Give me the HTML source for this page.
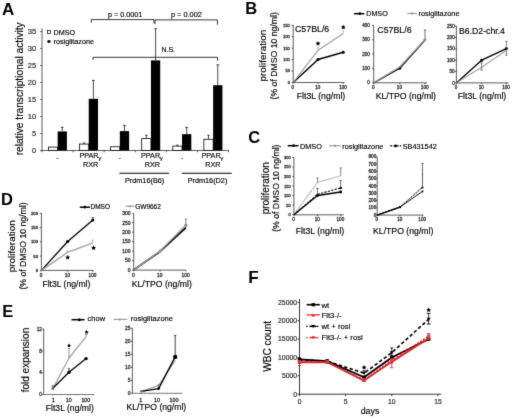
<!DOCTYPE html>
<html><head><meta charset="utf-8"><style>
html,body{margin:0;padding:0;background:#fff;overflow:hidden;}
svg{display:block;font-family:"Liberation Sans", sans-serif;}
</style></head><body>
<svg width="520" height="420" viewBox="0 0 520 420">
<defs><filter id="bl" x="0" y="0" width="520" height="420" filterUnits="userSpaceOnUse" color-interpolation-filters="sRGB"><feConvolveMatrix order="3" kernelMatrix="0.01134 0.08382 0.01134 0.08382 0.61935 0.08382 0.01134 0.08382 0.01134" edgeMode="duplicate" preserveAlpha="true"/></filter></defs>
<g filter="url(#bl)">
<rect width="520" height="420" fill="#fff"/>
<text x="2" y="14.9" font-size="17" text-anchor="start" fill="#000" font-weight="bold" >A</text>
<line x1="42" y1="28.5" x2="42" y2="150.5" stroke="#333" stroke-width="0.8" />
<line x1="40.2" y1="150.5" x2="42" y2="150.5" stroke="#333" stroke-width="0.8" />
<text x="36.2" y="153.1" font-size="7.5" text-anchor="end" fill="#222" font-weight="normal"  stroke="#222" stroke-width="0.15">0</text>
<line x1="40.2" y1="133.5" x2="42" y2="133.5" stroke="#333" stroke-width="0.8" />
<text x="36.2" y="136.1" font-size="7.5" text-anchor="end" fill="#222" font-weight="normal"  stroke="#222" stroke-width="0.15">5</text>
<line x1="40.2" y1="116.5" x2="42" y2="116.5" stroke="#333" stroke-width="0.8" />
<text x="36.2" y="119.1" font-size="7.5" text-anchor="end" fill="#222" font-weight="normal"  stroke="#222" stroke-width="0.15">10</text>
<line x1="40.2" y1="99.5" x2="42" y2="99.5" stroke="#333" stroke-width="0.8" />
<text x="36.2" y="102.1" font-size="7.5" text-anchor="end" fill="#222" font-weight="normal"  stroke="#222" stroke-width="0.15">15</text>
<line x1="40.2" y1="82.5" x2="42" y2="82.5" stroke="#333" stroke-width="0.8" />
<text x="36.2" y="85.1" font-size="7.5" text-anchor="end" fill="#222" font-weight="normal"  stroke="#222" stroke-width="0.15">20</text>
<line x1="40.2" y1="65.5" x2="42" y2="65.5" stroke="#333" stroke-width="0.8" />
<text x="36.2" y="68.1" font-size="7.5" text-anchor="end" fill="#222" font-weight="normal"  stroke="#222" stroke-width="0.15">25</text>
<line x1="40.2" y1="48.5" x2="42" y2="48.5" stroke="#333" stroke-width="0.8" />
<text x="36.2" y="51.1" font-size="7.5" text-anchor="end" fill="#222" font-weight="normal"  stroke="#222" stroke-width="0.15">30</text>
<line x1="40.2" y1="31.5" x2="42" y2="31.5" stroke="#333" stroke-width="0.8" />
<text x="36.2" y="34.1" font-size="7.5" text-anchor="end" fill="#222" font-weight="normal"  stroke="#222" stroke-width="0.15">35</text>
<line x1="42" y1="150.5" x2="229" y2="150.5" stroke="#333" stroke-width="0.8" />
<line x1="42" y1="150.5" x2="42" y2="152.3" stroke="#333" stroke-width="0.8" />
<line x1="73.1" y1="150.5" x2="73.1" y2="152.3" stroke="#333" stroke-width="0.8" />
<line x1="104.2" y1="150.5" x2="104.2" y2="152.3" stroke="#333" stroke-width="0.8" />
<line x1="135.3" y1="150.5" x2="135.3" y2="152.3" stroke="#333" stroke-width="0.8" />
<line x1="166.4" y1="150.5" x2="166.4" y2="152.3" stroke="#333" stroke-width="0.8" />
<line x1="197.5" y1="150.5" x2="197.5" y2="152.3" stroke="#333" stroke-width="0.8" />
<line x1="228.6" y1="150.5" x2="228.6" y2="152.3" stroke="#333" stroke-width="0.8" />
<rect x="48.4" y="147.1" width="9.25" height="3.4" fill="#fff" stroke="#000" stroke-width="0.8"/>
<line x1="62.27" y1="131.46" x2="62.27" y2="127.38" stroke="#000" stroke-width="0.7" />
<line x1="60.88" y1="127.38" x2="63.67" y2="127.38" stroke="#000" stroke-width="0.7" />
<rect x="57.65" y="131.46" width="9.25" height="19.04" fill="#000" stroke="none" stroke-width="0"/>
<line x1="84.12" y1="144.04" x2="84.12" y2="143.02" stroke="#000" stroke-width="0.7" />
<line x1="82.92" y1="143.02" x2="85.33" y2="143.02" stroke="#000" stroke-width="0.7" />
<rect x="79.5" y="144.04" width="9.25" height="6.46" fill="#fff" stroke="#000" stroke-width="0.8"/>
<line x1="93.38" y1="98.82" x2="93.38" y2="80.46" stroke="#000" stroke-width="0.7" />
<line x1="91.97" y1="80.46" x2="94.78" y2="80.46" stroke="#000" stroke-width="0.7" />
<rect x="88.75" y="98.82" width="9.25" height="51.68" fill="#000" stroke="none" stroke-width="0"/>
<rect x="110.6" y="146.76" width="9.25" height="3.74" fill="#fff" stroke="#000" stroke-width="0.8"/>
<line x1="124.47" y1="131.12" x2="124.47" y2="125.34" stroke="#000" stroke-width="0.7" />
<line x1="123.07" y1="125.34" x2="125.88" y2="125.34" stroke="#000" stroke-width="0.7" />
<rect x="119.85" y="131.12" width="9.25" height="19.38" fill="#000" stroke="none" stroke-width="0"/>
<line x1="146.33" y1="138.6" x2="146.33" y2="135.2" stroke="#000" stroke-width="0.7" />
<line x1="145.13" y1="135.2" x2="147.53" y2="135.2" stroke="#000" stroke-width="0.7" />
<rect x="141.7" y="138.6" width="9.25" height="11.9" fill="#fff" stroke="#000" stroke-width="0.8"/>
<line x1="155.58" y1="60.4" x2="155.58" y2="28.78" stroke="#000" stroke-width="0.7" />
<line x1="154.18" y1="28.78" x2="156.98" y2="28.78" stroke="#000" stroke-width="0.7" />
<rect x="150.95" y="60.4" width="9.25" height="90.1" fill="#000" stroke="none" stroke-width="0"/>
<line x1="177.43" y1="146.08" x2="177.43" y2="145.06" stroke="#000" stroke-width="0.7" />
<line x1="176.23" y1="145.06" x2="178.62" y2="145.06" stroke="#000" stroke-width="0.7" />
<rect x="172.8" y="146.08" width="9.25" height="4.42" fill="#fff" stroke="#000" stroke-width="0.8"/>
<line x1="186.68" y1="134.18" x2="186.68" y2="127.38" stroke="#000" stroke-width="0.7" />
<line x1="185.28" y1="127.38" x2="188.08" y2="127.38" stroke="#000" stroke-width="0.7" />
<rect x="182.05" y="134.18" width="9.25" height="16.32" fill="#000" stroke="none" stroke-width="0"/>
<line x1="208.53" y1="139.28" x2="208.53" y2="135.2" stroke="#000" stroke-width="0.7" />
<line x1="207.33" y1="135.2" x2="209.72" y2="135.2" stroke="#000" stroke-width="0.7" />
<rect x="203.9" y="139.28" width="9.25" height="11.22" fill="#fff" stroke="#000" stroke-width="0.8"/>
<line x1="217.78" y1="85.22" x2="217.78" y2="64.82" stroke="#000" stroke-width="0.7" />
<line x1="216.38" y1="64.82" x2="219.18" y2="64.82" stroke="#000" stroke-width="0.7" />
<rect x="213.15" y="85.22" width="9.25" height="65.28" fill="#000" stroke="none" stroke-width="0"/>
<rect x="47.4" y="30.6" width="3" height="3" fill="#fff" stroke="#000" stroke-width="0.7"/>
<text x="53.6" y="34.5" font-size="7.2" text-anchor="start" fill="#000" font-weight="normal"  stroke="#000" stroke-width="0.15">DMSO</text>
<rect x="47.5" y="40.2" width="2.9" height="2.6" fill="#000" stroke="none" stroke-width="0"/>
<text x="53.6" y="43.8" font-size="7.2" text-anchor="start" fill="#000" font-weight="normal"  stroke="#000" stroke-width="0.15">rosiglitazone</text>
<polyline points="91.2,22.8 91.2,19.6 154,19.6 154,23.5" fill="none" stroke="#222" stroke-width="0.9" stroke-linejoin="round" />
<polyline points="155,24.2 155,19.9 217.4,19.9 217.4,24.7" fill="none" stroke="#222" stroke-width="0.9" stroke-linejoin="round" />
<polyline points="93,60 93,57.3 217.6,57.3 217.6,60.6" fill="none" stroke="#222" stroke-width="0.9" stroke-linejoin="round" />
<text x="125.2" y="16.7" font-size="7.2" text-anchor="middle" fill="#000" font-weight="normal"  stroke="#000" stroke-width="0.15">p = 0.0001</text>
<text x="186.4" y="16.9" font-size="7.4" text-anchor="middle" fill="#000" font-weight="normal"  stroke="#000" stroke-width="0.15">p = 0.002</text>
<text x="161.4" y="51.9" font-size="7" text-anchor="start" fill="#000" font-weight="normal"  stroke="#000" stroke-width="0.15">N.S.</text>
<text x="57.5" y="160.3" font-size="7.2" text-anchor="middle" fill="#000" font-weight="normal"  stroke="#000" stroke-width="0.15">-</text>
<text x="119.7" y="160.3" font-size="7.2" text-anchor="middle" fill="#000" font-weight="normal"  stroke="#000" stroke-width="0.15">-</text>
<text x="181.9" y="160.3" font-size="7.2" text-anchor="middle" fill="#000" font-weight="normal"  stroke="#000" stroke-width="0.15">-</text>
<text x="88.9" y="158.3" font-size="7.2" text-anchor="middle" fill="#000" font-weight="normal"  stroke="#000" stroke-width="0.15">PPAR</text>
<text x="99.7" y="160" font-size="6.2" text-anchor="middle" fill="#000" font-weight="normal"  stroke="#000" stroke-width="0.15">&#947;</text>
<text x="90.7" y="166.8" font-size="7.2" text-anchor="middle" fill="#000" font-weight="normal"  stroke="#000" stroke-width="0.15">RXR</text>
<text x="150.6" y="158.3" font-size="7.2" text-anchor="middle" fill="#000" font-weight="normal"  stroke="#000" stroke-width="0.15">PPAR</text>
<text x="161.4" y="160" font-size="6.2" text-anchor="middle" fill="#000" font-weight="normal"  stroke="#000" stroke-width="0.15">&#947;</text>
<text x="152.4" y="166.8" font-size="7.2" text-anchor="middle" fill="#000" font-weight="normal"  stroke="#000" stroke-width="0.15">RXR</text>
<text x="211.1" y="158.3" font-size="7.2" text-anchor="middle" fill="#000" font-weight="normal"  stroke="#000" stroke-width="0.15">PPAR</text>
<text x="221.9" y="160" font-size="6.2" text-anchor="middle" fill="#000" font-weight="normal"  stroke="#000" stroke-width="0.15">&#947;</text>
<text x="212.9" y="166.8" font-size="7.2" text-anchor="middle" fill="#000" font-weight="normal"  stroke="#000" stroke-width="0.15">RXR</text>
<line x1="119.4" y1="173.2" x2="169" y2="173.2" stroke="#000" stroke-width="1.1" />
<line x1="181.8" y1="173.2" x2="231.8" y2="173.2" stroke="#000" stroke-width="1.1" />
<text x="144.6" y="182.5" font-size="7.3" text-anchor="middle" fill="#000" font-weight="normal"  stroke="#000" stroke-width="0.15">Prdm16(B6)</text>
<text x="207.5" y="182.5" font-size="7.3" text-anchor="middle" fill="#000" font-weight="normal"  stroke="#000" stroke-width="0.15">Prdm16(D2)</text>
<text x="22.8" y="88.85" font-size="10.2" text-anchor="middle" fill="#000" font-weight="normal" transform="rotate(-90 22.8 88.85)"  stroke="#000" stroke-width="0.15">relative transcriptional activity</text>
<text x="245.3" y="14" font-size="16.5" text-anchor="start" fill="#000" font-weight="bold" >B</text>
<line x1="354" y1="13.7" x2="364.4" y2="13.7" stroke="#000" stroke-width="1.5" />
<circle cx="359.8" cy="13.7" r="1.4" fill="#000"/>
<text x="366.2" y="16.4" font-size="7.2" text-anchor="start" fill="#000" font-weight="normal"  stroke="#000" stroke-width="0.15">DMSO</text>
<line x1="407.3" y1="13.5" x2="416.8" y2="13.5" stroke="#a0a0a0" stroke-width="1.2" />
<circle cx="412" cy="13.5" r="1.2" fill="#a0a0a0"/>
<text x="418.5" y="16.2" font-size="7.3" text-anchor="start" fill="#000" font-weight="normal"  stroke="#000" stroke-width="0.15">rosiglitazone</text>
<line x1="293.2" y1="25" x2="293.2" y2="82.5" stroke="#333" stroke-width="0.8" />
<line x1="293.2" y1="82.5" x2="344.5" y2="82.5" stroke="#333" stroke-width="0.8" />
<line x1="291.7" y1="82.5" x2="293.2" y2="82.5" stroke="#333" stroke-width="0.8" />
<text x="289.8" y="83.9" font-size="3.9" text-anchor="end" fill="#333" font-weight="normal" stroke="#333" stroke-width="0.3">0</text>
<line x1="291.7" y1="71.04" x2="293.2" y2="71.04" stroke="#333" stroke-width="0.8" />
<text x="289.8" y="72.44" font-size="3.9" text-anchor="end" fill="#333" font-weight="normal" stroke="#333" stroke-width="0.3">50</text>
<line x1="291.7" y1="59.58" x2="293.2" y2="59.58" stroke="#333" stroke-width="0.8" />
<text x="289.8" y="60.98" font-size="3.9" text-anchor="end" fill="#333" font-weight="normal" stroke="#333" stroke-width="0.3">100</text>
<line x1="291.7" y1="48.12" x2="293.2" y2="48.12" stroke="#333" stroke-width="0.8" />
<text x="289.8" y="49.52" font-size="3.9" text-anchor="end" fill="#333" font-weight="normal" stroke="#333" stroke-width="0.3">150</text>
<line x1="291.7" y1="36.66" x2="293.2" y2="36.66" stroke="#333" stroke-width="0.8" />
<text x="289.8" y="38.06" font-size="3.9" text-anchor="end" fill="#333" font-weight="normal" stroke="#333" stroke-width="0.3">200</text>
<line x1="291.7" y1="25.2" x2="293.2" y2="25.2" stroke="#333" stroke-width="0.8" />
<text x="289.8" y="26.6" font-size="3.9" text-anchor="end" fill="#333" font-weight="normal" stroke="#333" stroke-width="0.3">250</text>
<line x1="293.2" y1="82.5" x2="293.2" y2="83.8" stroke="#333" stroke-width="0.8" />
<text x="292.9" y="89.2" font-size="4.6" text-anchor="middle" fill="#333" font-weight="normal" stroke="#333" stroke-width="0.3">0</text>
<line x1="318" y1="82.5" x2="318" y2="83.8" stroke="#333" stroke-width="0.8" />
<text x="317.7" y="89.2" font-size="4.6" text-anchor="middle" fill="#333" font-weight="normal" stroke="#333" stroke-width="0.3">10</text>
<line x1="343.3" y1="82.5" x2="343.3" y2="83.8" stroke="#333" stroke-width="0.8" />
<text x="343" y="89.2" font-size="4.6" text-anchor="middle" fill="#333" font-weight="normal" stroke="#333" stroke-width="0.3">100</text>
<text x="295" y="32" font-size="8.8" text-anchor="start" fill="#000" font-weight="normal"  stroke="#000" stroke-width="0.15">C57BL/6</text>
<polyline points="293.2,82.5 318,59.5 343.3,52.3" fill="none" stroke="#000" stroke-width="1.45" stroke-linejoin="round" />
<circle cx="318" cy="59.5" r="1.5" fill="#000"/>
<circle cx="343.3" cy="52.3" r="1.5" fill="#000"/>
<polyline points="293.2,82.5 318,50.3 343.3,33.6" fill="none" stroke="#a0a0a0" stroke-width="1.2" stroke-linejoin="round" />
<line x1="318" y1="50.3" x2="318" y2="47.2" stroke="#a0a0a0" stroke-width="0.7" />
<line x1="317" y1="47.2" x2="319" y2="47.2" stroke="#a0a0a0" stroke-width="0.7" />
<line x1="343.3" y1="33.5" x2="343.3" y2="31" stroke="#a0a0a0" stroke-width="0.7" />
<line x1="342.3" y1="31" x2="344.3" y2="31" stroke="#a0a0a0" stroke-width="0.7" />
<polygon points="318,41.1 318.73,42.59 320.38,42.83 319.19,43.99 319.47,45.62 318,44.85 316.53,45.62 316.81,43.99 315.62,42.83 317.27,42.59" fill="#000"/>
<polygon points="343.3,24.7 344.03,26.19 345.68,26.43 344.49,27.59 344.77,29.22 343.3,28.45 341.83,29.22 342.11,27.59 340.92,26.43 342.57,26.19" fill="#000"/>
<text x="321" y="99.2" font-size="8.7" text-anchor="middle" fill="#000" font-weight="normal"  stroke="#000" stroke-width="0.15">Flt3L (ng/ml)</text>
<text x="266.2" y="55.65" font-size="9.9" text-anchor="middle" fill="#000" font-weight="normal" transform="rotate(-90 266.2 55.65)"  stroke="#000" stroke-width="0.15">proliferation</text>
<text x="277" y="55.8" font-size="8.69" text-anchor="middle" fill="#000" font-weight="normal" transform="rotate(-90 277 55.8)"  stroke="#000" stroke-width="0.15">(% of DMSO 10 ng/ml)</text>
<line x1="373.7" y1="25.3" x2="373.7" y2="82.8" stroke="#333" stroke-width="0.8" />
<line x1="373.7" y1="82.8" x2="427" y2="82.8" stroke="#333" stroke-width="0.8" />
<line x1="372.2" y1="82.8" x2="373.7" y2="82.8" stroke="#333" stroke-width="0.8" />
<text x="369.9" y="84.46" font-size="4.6" text-anchor="end" fill="#333" font-weight="normal" stroke="#333" stroke-width="0.3">0</text>
<line x1="372.2" y1="68.45" x2="373.7" y2="68.45" stroke="#333" stroke-width="0.8" />
<text x="369.9" y="70.11" font-size="4.6" text-anchor="end" fill="#333" font-weight="normal" stroke="#333" stroke-width="0.3">100</text>
<line x1="372.2" y1="54.1" x2="373.7" y2="54.1" stroke="#333" stroke-width="0.8" />
<text x="369.9" y="55.76" font-size="4.6" text-anchor="end" fill="#333" font-weight="normal" stroke="#333" stroke-width="0.3">200</text>
<line x1="372.2" y1="39.75" x2="373.7" y2="39.75" stroke="#333" stroke-width="0.8" />
<text x="369.9" y="41.41" font-size="4.6" text-anchor="end" fill="#333" font-weight="normal" stroke="#333" stroke-width="0.3">300</text>
<line x1="372.2" y1="25.4" x2="373.7" y2="25.4" stroke="#333" stroke-width="0.8" />
<text x="369.9" y="27.06" font-size="4.6" text-anchor="end" fill="#333" font-weight="normal" stroke="#333" stroke-width="0.3">400</text>
<line x1="373.7" y1="82.8" x2="373.7" y2="84.1" stroke="#333" stroke-width="0.8" />
<text x="373.4" y="89.2" font-size="4.6" text-anchor="middle" fill="#333" font-weight="normal" stroke="#333" stroke-width="0.3">0</text>
<line x1="399.7" y1="82.8" x2="399.7" y2="84.1" stroke="#333" stroke-width="0.8" />
<text x="399.4" y="89.2" font-size="4.6" text-anchor="middle" fill="#333" font-weight="normal" stroke="#333" stroke-width="0.3">10</text>
<line x1="425" y1="82.8" x2="425" y2="84.1" stroke="#333" stroke-width="0.8" />
<text x="424.7" y="89.2" font-size="4.6" text-anchor="middle" fill="#333" font-weight="normal" stroke="#333" stroke-width="0.3">100</text>
<text x="377.3" y="32.5" font-size="8.8" text-anchor="start" fill="#000" font-weight="normal"  stroke="#000" stroke-width="0.15">C57BL/6</text>
<polyline points="373.7,82.8 399.7,68.2 425,40" fill="none" stroke="#000" stroke-width="1.5" stroke-linejoin="round" />
<circle cx="399.7" cy="68.2" r="1.5" fill="#000"/>
<polyline points="373.7,82.8 399.7,67 425,39.5" fill="none" stroke="#a0a0a0" stroke-width="1.3" stroke-linejoin="round" />
<circle cx="425" cy="39.8" r="1.6" fill="#a0a0a0"/>
<line x1="425" y1="39.5" x2="425" y2="30" stroke="#444" stroke-width="0.75" />
<line x1="423.9" y1="30" x2="426.1" y2="30" stroke="#444" stroke-width="0.75" />
<text x="405.8" y="99.2" font-size="8.7" text-anchor="middle" fill="#000" font-weight="normal"  stroke="#000" stroke-width="0.15">KL/TPO (ng/ml)</text>
<line x1="456.4" y1="26" x2="456.4" y2="82.9" stroke="#333" stroke-width="0.8" />
<line x1="456.4" y1="82.9" x2="508.7" y2="82.9" stroke="#333" stroke-width="0.8" />
<line x1="454.9" y1="82.9" x2="456.4" y2="82.9" stroke="#333" stroke-width="0.8" />
<text x="454.7" y="84.56" font-size="4.6" text-anchor="end" fill="#333" font-weight="normal" stroke="#333" stroke-width="0.3">0</text>
<line x1="454.9" y1="71.54" x2="456.4" y2="71.54" stroke="#333" stroke-width="0.8" />
<text x="454.7" y="73.2" font-size="4.6" text-anchor="end" fill="#333" font-weight="normal" stroke="#333" stroke-width="0.3">50</text>
<line x1="454.9" y1="60.18" x2="456.4" y2="60.18" stroke="#333" stroke-width="0.8" />
<text x="454.7" y="61.84" font-size="4.6" text-anchor="end" fill="#333" font-weight="normal" stroke="#333" stroke-width="0.3">100</text>
<line x1="454.9" y1="48.82" x2="456.4" y2="48.82" stroke="#333" stroke-width="0.8" />
<text x="454.7" y="50.48" font-size="4.6" text-anchor="end" fill="#333" font-weight="normal" stroke="#333" stroke-width="0.3">150</text>
<line x1="454.9" y1="37.46" x2="456.4" y2="37.46" stroke="#333" stroke-width="0.8" />
<text x="454.7" y="39.12" font-size="4.6" text-anchor="end" fill="#333" font-weight="normal" stroke="#333" stroke-width="0.3">200</text>
<line x1="454.9" y1="26.1" x2="456.4" y2="26.1" stroke="#333" stroke-width="0.8" />
<text x="454.7" y="27.76" font-size="4.6" text-anchor="end" fill="#333" font-weight="normal" stroke="#333" stroke-width="0.3">250</text>
<line x1="456.4" y1="82.9" x2="456.4" y2="84.2" stroke="#333" stroke-width="0.8" />
<text x="456.1" y="89.2" font-size="4.6" text-anchor="middle" fill="#333" font-weight="normal" stroke="#333" stroke-width="0.3">0</text>
<line x1="481.6" y1="82.9" x2="481.6" y2="84.2" stroke="#333" stroke-width="0.8" />
<text x="481.3" y="89.2" font-size="4.6" text-anchor="middle" fill="#333" font-weight="normal" stroke="#333" stroke-width="0.3">10</text>
<line x1="506.4" y1="82.9" x2="506.4" y2="84.2" stroke="#333" stroke-width="0.8" />
<text x="506.1" y="89.2" font-size="4.6" text-anchor="middle" fill="#333" font-weight="normal" stroke="#333" stroke-width="0.3">100</text>
<text x="459" y="34" font-size="8.7" text-anchor="start" fill="#000" font-weight="normal"  stroke="#000" stroke-width="0.15">B6.D2-chr.4</text>
<polyline points="456.4,82.9 481.6,60.2 506.4,48.6" fill="none" stroke="#000" stroke-width="1.35" stroke-linejoin="round" />
<circle cx="481.6" cy="60.2" r="1.5" fill="#000"/>
<circle cx="506.4" cy="48.6" r="1.5" fill="#000"/>
<polyline points="456.4,82.9 481.6,67.3 506.4,50.5" fill="none" stroke="#a0a0a0" stroke-width="1.1" stroke-linejoin="round" />
<line x1="481.6" y1="67.3" x2="481.6" y2="62.9" stroke="#555" stroke-width="0.7" />
<line x1="480.4" y1="62.9" x2="482.8" y2="62.9" stroke="#555" stroke-width="0.7" />
<line x1="481.6" y1="67.3" x2="481.6" y2="70" stroke="#555" stroke-width="0.7" />
<line x1="480.4" y1="70" x2="482.8" y2="70" stroke="#555" stroke-width="0.7" />
<line x1="506.4" y1="48.6" x2="506.4" y2="41.4" stroke="#555" stroke-width="0.7" />
<line x1="505.2" y1="41.4" x2="507.6" y2="41.4" stroke="#555" stroke-width="0.7" />
<line x1="506.4" y1="48.6" x2="506.4" y2="55.2" stroke="#555" stroke-width="0.7" />
<line x1="505.2" y1="55.2" x2="507.6" y2="55.2" stroke="#555" stroke-width="0.7" />
<text x="482" y="99.2" font-size="8.7" text-anchor="middle" fill="#000" font-weight="normal"  stroke="#000" stroke-width="0.15">Flt3L (ng/ml)</text>
<text x="248.3" y="143" font-size="16.5" text-anchor="start" fill="#000" font-weight="bold" >C</text>
<line x1="287.7" y1="145.7" x2="298.5" y2="145.7" stroke="#000" stroke-width="1.5" />
<circle cx="293.5" cy="145.7" r="1.4" fill="#000"/>
<text x="300" y="148.5" font-size="7.3" text-anchor="start" fill="#000" font-weight="normal"  stroke="#000" stroke-width="0.15">DMSO</text>
<line x1="328.9" y1="145.7" x2="340.8" y2="145.7" stroke="#a0a0a0" stroke-width="1.2" />
<circle cx="335" cy="145.7" r="1.2" fill="#a0a0a0"/>
<text x="342.3" y="148.5" font-size="7.3" text-anchor="start" fill="#000" font-weight="normal"  stroke="#000" stroke-width="0.15">rosiglitazone</text>
<line x1="390.2" y1="145.9" x2="401.2" y2="145.9" stroke="#000" stroke-width="1.3" stroke-dasharray="2 1.2"/>
<circle cx="395.7" cy="145.9" r="1.4" fill="#000"/>
<text x="402.7" y="148.5" font-size="7.3" text-anchor="start" fill="#000" font-weight="normal"  stroke="#000" stroke-width="0.15">SB431542</text>
<line x1="293.9" y1="157.3" x2="293.9" y2="214.8" stroke="#333" stroke-width="0.8" />
<line x1="293.9" y1="214.8" x2="343.9" y2="214.8" stroke="#333" stroke-width="0.8" />
<line x1="292.4" y1="214.8" x2="293.9" y2="214.8" stroke="#333" stroke-width="0.8" />
<text x="290.6" y="216.2" font-size="3.9" text-anchor="end" fill="#333" font-weight="normal" stroke="#333" stroke-width="0.3">0</text>
<line x1="292.4" y1="205.25" x2="293.9" y2="205.25" stroke="#333" stroke-width="0.8" />
<text x="290.6" y="206.65" font-size="3.9" text-anchor="end" fill="#333" font-weight="normal" stroke="#333" stroke-width="0.3">50</text>
<line x1="292.4" y1="195.7" x2="293.9" y2="195.7" stroke="#333" stroke-width="0.8" />
<text x="290.6" y="197.1" font-size="3.9" text-anchor="end" fill="#333" font-weight="normal" stroke="#333" stroke-width="0.3">100</text>
<line x1="292.4" y1="186.15" x2="293.9" y2="186.15" stroke="#333" stroke-width="0.8" />
<text x="290.6" y="187.55" font-size="3.9" text-anchor="end" fill="#333" font-weight="normal" stroke="#333" stroke-width="0.3">150</text>
<line x1="292.4" y1="176.6" x2="293.9" y2="176.6" stroke="#333" stroke-width="0.8" />
<text x="290.6" y="178" font-size="3.9" text-anchor="end" fill="#333" font-weight="normal" stroke="#333" stroke-width="0.3">200</text>
<line x1="292.4" y1="167.05" x2="293.9" y2="167.05" stroke="#333" stroke-width="0.8" />
<text x="290.6" y="168.45" font-size="3.9" text-anchor="end" fill="#333" font-weight="normal" stroke="#333" stroke-width="0.3">250</text>
<line x1="292.4" y1="157.5" x2="293.9" y2="157.5" stroke="#333" stroke-width="0.8" />
<text x="290.6" y="158.9" font-size="3.9" text-anchor="end" fill="#333" font-weight="normal" stroke="#333" stroke-width="0.3">300</text>
<line x1="293.9" y1="214.8" x2="293.9" y2="216.1" stroke="#333" stroke-width="0.8" />
<text x="293.6" y="221.2" font-size="4.6" text-anchor="middle" fill="#333" font-weight="normal" stroke="#333" stroke-width="0.3">0</text>
<line x1="317.5" y1="214.8" x2="317.5" y2="216.1" stroke="#333" stroke-width="0.8" />
<text x="317.2" y="221.2" font-size="4.6" text-anchor="middle" fill="#333" font-weight="normal" stroke="#333" stroke-width="0.3">10</text>
<line x1="340.7" y1="214.8" x2="340.7" y2="216.1" stroke="#333" stroke-width="0.8" />
<text x="340.4" y="221.2" font-size="4.6" text-anchor="middle" fill="#333" font-weight="normal" stroke="#333" stroke-width="0.3">100</text>
<polyline points="293.9,214.8 317.5,182.3 340.7,175.9" fill="none" stroke="#c4c4c4" stroke-width="1.3" stroke-linejoin="round" />
<line x1="317.5" y1="182.1" x2="317.5" y2="178" stroke="#555" stroke-width="0.7" />
<line x1="316.4" y1="178" x2="318.6" y2="178" stroke="#555" stroke-width="0.7" />
<line x1="340.7" y1="175.9" x2="340.7" y2="167.9" stroke="#555" stroke-width="0.7" />
<line x1="339.6" y1="167.9" x2="341.8" y2="167.9" stroke="#555" stroke-width="0.7" />
<polyline points="293.9,214.8 317.5,195.5 340.7,192" fill="none" stroke="#000" stroke-width="1.3" stroke-linejoin="round" />
<circle cx="317.5" cy="195.5" r="1.4" fill="#000"/>
<circle cx="340.7" cy="192" r="1.4" fill="#000"/>
<polyline points="293.9,214.8 317.5,194.3 340.7,188" fill="none" stroke="#000" stroke-width="1.1" stroke-linejoin="round" stroke-dasharray="2.2 1.3"/>
<circle cx="340.7" cy="188" r="1.3" fill="#000"/>
<line x1="317.5" y1="194.3" x2="317.5" y2="188.4" stroke="#333" stroke-width="0.7" />
<line x1="316.4" y1="188.4" x2="318.6" y2="188.4" stroke="#333" stroke-width="0.7" />
<line x1="340.7" y1="188" x2="340.7" y2="180.6" stroke="#333" stroke-width="0.7" />
<line x1="339.6" y1="180.6" x2="341.8" y2="180.6" stroke="#333" stroke-width="0.7" />
<text x="320" y="233.6" font-size="8.7" text-anchor="middle" fill="#000" font-weight="normal"  stroke="#000" stroke-width="0.15">Flt3L (ng/ml)</text>
<text x="268.8" y="188.2" font-size="10" text-anchor="middle" fill="#000" font-weight="normal" transform="rotate(-90 268.8 188.2)"  stroke="#000" stroke-width="0.15">proliferation</text>
<text x="279.1" y="188.15" font-size="8.68" text-anchor="middle" fill="#000" font-weight="normal" transform="rotate(-90 279.1 188.15)"  stroke="#000" stroke-width="0.15">(% of DMSO 10 ng/ml)</text>
<line x1="377.2" y1="156.8" x2="377.2" y2="215.1" stroke="#333" stroke-width="0.8" />
<line x1="377.2" y1="215.1" x2="423.5" y2="215.1" stroke="#333" stroke-width="0.8" />
<line x1="375.7" y1="215.1" x2="377.2" y2="215.1" stroke="#333" stroke-width="0.8" />
<text x="376.2" y="216.76" font-size="4.6" text-anchor="end" fill="#333" font-weight="normal" stroke="#333" stroke-width="0.3">0</text>
<line x1="375.7" y1="207.81" x2="377.2" y2="207.81" stroke="#333" stroke-width="0.8" />
<text x="376.2" y="209.47" font-size="4.6" text-anchor="end" fill="#333" font-weight="normal" stroke="#333" stroke-width="0.3">100</text>
<line x1="375.7" y1="200.52" x2="377.2" y2="200.52" stroke="#333" stroke-width="0.8" />
<text x="376.2" y="202.18" font-size="4.6" text-anchor="end" fill="#333" font-weight="normal" stroke="#333" stroke-width="0.3">200</text>
<line x1="375.7" y1="193.23" x2="377.2" y2="193.23" stroke="#333" stroke-width="0.8" />
<text x="376.2" y="194.89" font-size="4.6" text-anchor="end" fill="#333" font-weight="normal" stroke="#333" stroke-width="0.3">300</text>
<line x1="375.7" y1="185.94" x2="377.2" y2="185.94" stroke="#333" stroke-width="0.8" />
<text x="376.2" y="187.6" font-size="4.6" text-anchor="end" fill="#333" font-weight="normal" stroke="#333" stroke-width="0.3">400</text>
<line x1="375.7" y1="178.65" x2="377.2" y2="178.65" stroke="#333" stroke-width="0.8" />
<text x="376.2" y="180.31" font-size="4.6" text-anchor="end" fill="#333" font-weight="normal" stroke="#333" stroke-width="0.3">500</text>
<line x1="375.7" y1="171.36" x2="377.2" y2="171.36" stroke="#333" stroke-width="0.8" />
<text x="376.2" y="173.02" font-size="4.6" text-anchor="end" fill="#333" font-weight="normal" stroke="#333" stroke-width="0.3">600</text>
<line x1="375.7" y1="164.07" x2="377.2" y2="164.07" stroke="#333" stroke-width="0.8" />
<text x="376.2" y="165.73" font-size="4.6" text-anchor="end" fill="#333" font-weight="normal" stroke="#333" stroke-width="0.3">700</text>
<line x1="375.7" y1="156.78" x2="377.2" y2="156.78" stroke="#333" stroke-width="0.8" />
<text x="376.2" y="158.44" font-size="4.6" text-anchor="end" fill="#333" font-weight="normal" stroke="#333" stroke-width="0.3">800</text>
<line x1="377.2" y1="215.1" x2="377.2" y2="216.4" stroke="#333" stroke-width="0.8" />
<text x="376.9" y="221.4" font-size="4.6" text-anchor="middle" fill="#333" font-weight="normal" stroke="#333" stroke-width="0.3">0</text>
<line x1="400" y1="215.1" x2="400" y2="216.4" stroke="#333" stroke-width="0.8" />
<text x="399.7" y="221.4" font-size="4.6" text-anchor="middle" fill="#333" font-weight="normal" stroke="#333" stroke-width="0.3">10</text>
<line x1="422.5" y1="215.1" x2="422.5" y2="216.4" stroke="#333" stroke-width="0.8" />
<text x="422.2" y="221.4" font-size="4.6" text-anchor="middle" fill="#333" font-weight="normal" stroke="#333" stroke-width="0.3">100</text>
<polyline points="377.2,215.1 400,207.1 422.5,186.6" fill="none" stroke="#999" stroke-width="0.8" stroke-linejoin="round" />
<polyline points="377.2,215.1 400,207.1 422.5,191.4" fill="none" stroke="#111" stroke-width="1" stroke-linejoin="round" />
<polyline points="377.2,215.1 400,207.1 422.5,187.6" fill="none" stroke="#222" stroke-width="0.9" stroke-linejoin="round" stroke-dasharray="2 1.2"/>
<polyline points="377.2,215.1 400,207.1" fill="none" stroke="#000" stroke-width="1.3" stroke-linejoin="round" />
<circle cx="400" cy="207.1" r="1.2" fill="#000"/>
<circle cx="422.5" cy="187.5" r="1.1" fill="#000"/>
<circle cx="422.5" cy="191.4" r="1" fill="#000"/>
<line x1="422.5" y1="187.5" x2="422.5" y2="163.4" stroke="#333" stroke-width="0.7" />
<line x1="421.4" y1="163.4" x2="423.6" y2="163.4" stroke="#333" stroke-width="0.7" />
<line x1="422.5" y1="186.6" x2="422.5" y2="170" stroke="#777" stroke-width="0.6" />
<line x1="421.6" y1="170" x2="423.4" y2="170" stroke="#777" stroke-width="0.6" />
<line x1="422.5" y1="187" x2="422.5" y2="174" stroke="#555" stroke-width="0.6" />
<line x1="421.6" y1="174" x2="423.4" y2="174" stroke="#555" stroke-width="0.6" />
<text x="403.2" y="234" font-size="8.7" text-anchor="middle" fill="#000" font-weight="normal"  stroke="#000" stroke-width="0.15">KL/TPO (ng/ml)</text>
<text x="1" y="204.7" font-size="16.5" text-anchor="start" fill="#000" font-weight="bold" >D</text>
<line x1="79.8" y1="207.2" x2="89.9" y2="207.2" stroke="#000" stroke-width="1.5" />
<circle cx="84.8" cy="207.2" r="1.4" fill="#000"/>
<text x="90.5" y="209.4" font-size="6.5" text-anchor="start" fill="#000" font-weight="normal"  stroke="#000" stroke-width="0.15">DMSO</text>
<line x1="125.5" y1="206.2" x2="134.5" y2="206.2" stroke="#a0a0a0" stroke-width="1.2" />
<circle cx="130" cy="206.2" r="1.2" fill="#a0a0a0"/>
<text x="135.2" y="208.5" font-size="6.5" text-anchor="start" fill="#000" font-weight="normal"  stroke="#000" stroke-width="0.15">GW9662</text>
<line x1="41.4" y1="213" x2="41.4" y2="270.4" stroke="#333" stroke-width="0.8" />
<line x1="41.4" y1="270.4" x2="93.6" y2="270.4" stroke="#333" stroke-width="0.8" />
<line x1="39.9" y1="270.4" x2="41.4" y2="270.4" stroke="#333" stroke-width="0.8" />
<text x="38" y="271.91" font-size="4.2" text-anchor="end" fill="#333" font-weight="normal" stroke="#333" stroke-width="0.3">0</text>
<line x1="39.9" y1="256.12" x2="41.4" y2="256.12" stroke="#333" stroke-width="0.8" />
<text x="38" y="257.64" font-size="4.2" text-anchor="end" fill="#333" font-weight="normal" stroke="#333" stroke-width="0.3">50</text>
<line x1="39.9" y1="241.85" x2="41.4" y2="241.85" stroke="#333" stroke-width="0.8" />
<text x="38" y="243.36" font-size="4.2" text-anchor="end" fill="#333" font-weight="normal" stroke="#333" stroke-width="0.3">100</text>
<line x1="39.9" y1="227.57" x2="41.4" y2="227.57" stroke="#333" stroke-width="0.8" />
<text x="38" y="229.09" font-size="4.2" text-anchor="end" fill="#333" font-weight="normal" stroke="#333" stroke-width="0.3">150</text>
<line x1="39.9" y1="213.3" x2="41.4" y2="213.3" stroke="#333" stroke-width="0.8" />
<text x="38" y="214.81" font-size="4.2" text-anchor="end" fill="#333" font-weight="normal" stroke="#333" stroke-width="0.3">200</text>
<line x1="41.4" y1="270.4" x2="41.4" y2="271.7" stroke="#333" stroke-width="0.8" />
<text x="41.1" y="276.8" font-size="4.7" text-anchor="middle" fill="#333" font-weight="normal" stroke="#333" stroke-width="0.3">0</text>
<line x1="67.7" y1="270.4" x2="67.7" y2="271.7" stroke="#333" stroke-width="0.8" />
<text x="67.4" y="276.8" font-size="4.7" text-anchor="middle" fill="#333" font-weight="normal" stroke="#333" stroke-width="0.3">10</text>
<line x1="92.8" y1="270.4" x2="92.8" y2="271.7" stroke="#333" stroke-width="0.8" />
<text x="92.5" y="276.8" font-size="4.7" text-anchor="middle" fill="#333" font-weight="normal" stroke="#333" stroke-width="0.3">100</text>
<polyline points="41.4,270.4 67.7,241.5 92.8,220" fill="none" stroke="#000" stroke-width="1.3" stroke-linejoin="round" />
<circle cx="67.7" cy="241.5" r="1.6" fill="#000"/>
<circle cx="92.8" cy="220" r="1.6" fill="#000"/>
<line x1="92.8" y1="220" x2="92.8" y2="217.5" stroke="#333" stroke-width="0.7" />
<line x1="91.7" y1="217.5" x2="93.9" y2="217.5" stroke="#333" stroke-width="0.7" />
<polyline points="41.4,270.4 67.7,252.3 92.8,242.8" fill="none" stroke="#a0a0a0" stroke-width="1.3" stroke-linejoin="round" />
<line x1="67.7" y1="252.3" x2="67.7" y2="250.8" stroke="#a0a0a0" stroke-width="0.7" />
<line x1="66.6" y1="250.8" x2="68.8" y2="250.8" stroke="#a0a0a0" stroke-width="0.7" />
<line x1="92.8" y1="242.8" x2="92.8" y2="240.2" stroke="#a0a0a0" stroke-width="0.7" />
<line x1="91.7" y1="240.2" x2="93.9" y2="240.2" stroke="#a0a0a0" stroke-width="0.7" />
<polygon points="67.7,254.9 68.43,256.39 70.08,256.63 68.89,257.79 69.17,259.42 67.7,258.65 66.23,259.42 66.51,257.79 65.32,256.63 66.97,256.39" fill="#000"/>
<polygon points="93.6,245.5 94.33,246.99 95.98,247.23 94.79,248.39 95.07,250.02 93.6,249.25 92.13,250.02 92.41,248.39 91.22,247.23 92.87,246.99" fill="#000"/>
<text x="66.4" y="287.2" font-size="8.6" text-anchor="middle" fill="#000" font-weight="normal"  stroke="#000" stroke-width="0.15">Flt3L (ng/ml)</text>
<text x="14.9" y="246.25" font-size="9.97" text-anchor="middle" fill="#000" font-weight="normal" transform="rotate(-90 14.9 246.25)"  stroke="#000" stroke-width="0.15">proliferation</text>
<text x="25.85" y="246" font-size="8.67" text-anchor="middle" fill="#000" font-weight="normal" transform="rotate(-90 25.85 246)"  stroke="#000" stroke-width="0.15">(% of DMSO 10 ng/ml)</text>
<line x1="133.7" y1="213.2" x2="133.7" y2="270.1" stroke="#333" stroke-width="0.8" />
<line x1="133.7" y1="270.1" x2="185.8" y2="270.1" stroke="#333" stroke-width="0.8" />
<line x1="132.2" y1="270.1" x2="133.7" y2="270.1" stroke="#333" stroke-width="0.8" />
<text x="130.5" y="271.9" font-size="5" text-anchor="end" fill="#333" font-weight="normal" stroke="#333" stroke-width="0.3">0</text>
<line x1="132.2" y1="260.62" x2="133.7" y2="260.62" stroke="#333" stroke-width="0.8" />
<text x="130.5" y="262.42" font-size="5" text-anchor="end" fill="#333" font-weight="normal" stroke="#333" stroke-width="0.3">50</text>
<line x1="132.2" y1="251.14" x2="133.7" y2="251.14" stroke="#333" stroke-width="0.8" />
<text x="130.5" y="252.94" font-size="5" text-anchor="end" fill="#333" font-weight="normal" stroke="#333" stroke-width="0.3">100</text>
<line x1="132.2" y1="241.66" x2="133.7" y2="241.66" stroke="#333" stroke-width="0.8" />
<text x="130.5" y="243.46" font-size="5" text-anchor="end" fill="#333" font-weight="normal" stroke="#333" stroke-width="0.3">150</text>
<line x1="132.2" y1="232.18" x2="133.7" y2="232.18" stroke="#333" stroke-width="0.8" />
<text x="130.5" y="233.98" font-size="5" text-anchor="end" fill="#333" font-weight="normal" stroke="#333" stroke-width="0.3">200</text>
<line x1="132.2" y1="222.7" x2="133.7" y2="222.7" stroke="#333" stroke-width="0.8" />
<text x="130.5" y="224.5" font-size="5" text-anchor="end" fill="#333" font-weight="normal" stroke="#333" stroke-width="0.3">250</text>
<line x1="132.2" y1="213.22" x2="133.7" y2="213.22" stroke="#333" stroke-width="0.8" />
<text x="130.5" y="215.02" font-size="5" text-anchor="end" fill="#333" font-weight="normal" stroke="#333" stroke-width="0.3">300</text>
<line x1="133.7" y1="270.1" x2="133.7" y2="271.4" stroke="#333" stroke-width="0.8" />
<text x="133.4" y="276.9" font-size="4.9" text-anchor="middle" fill="#333" font-weight="normal" stroke="#333" stroke-width="0.3">0</text>
<line x1="160.1" y1="270.1" x2="160.1" y2="271.4" stroke="#333" stroke-width="0.8" />
<text x="159.8" y="276.9" font-size="4.9" text-anchor="middle" fill="#333" font-weight="normal" stroke="#333" stroke-width="0.3">10</text>
<line x1="185.9" y1="270.1" x2="185.9" y2="271.4" stroke="#333" stroke-width="0.8" />
<text x="185.6" y="276.9" font-size="4.9" text-anchor="middle" fill="#333" font-weight="normal" stroke="#333" stroke-width="0.3">100</text>
<polyline points="133.7,270.1 160.1,251.4 185.9,227.6" fill="none" stroke="#000" stroke-width="1.8" stroke-linejoin="round" />
<polyline points="133.7,270.1 160.1,251 185.9,225" fill="none" stroke="#a0a0a0" stroke-width="1.3" stroke-linejoin="round" />
<circle cx="160.1" cy="251.2" r="1.6" fill="#a0a0a0"/>
<circle cx="185.9" cy="225.5" r="1.8" fill="#a0a0a0"/>
<line x1="185.9" y1="225.5" x2="185.9" y2="219" stroke="#555" stroke-width="0.7" />
<line x1="184.8" y1="219" x2="187" y2="219" stroke="#555" stroke-width="0.7" />
<text x="161.8" y="287.4" font-size="8.67" text-anchor="middle" fill="#000" font-weight="normal"  stroke="#000" stroke-width="0.15">KL/TPO (ng/ml)</text>
<text x="2.2" y="317.2" font-size="16.5" text-anchor="start" fill="#000" font-weight="bold" >E</text>
<line x1="71.5" y1="319.7" x2="84.6" y2="319.7" stroke="#000" stroke-width="1.5" />
<circle cx="79.3" cy="319.7" r="1.5" fill="#000"/>
<text x="87.6" y="321.4" font-size="7.5" text-anchor="start" fill="#000" font-weight="normal"  stroke="#000" stroke-width="0.15">chow</text>
<line x1="113.5" y1="319.4" x2="127.3" y2="319.4" stroke="#a0a0a0" stroke-width="1.2" />
<circle cx="120" cy="319.4" r="1.2" fill="#a0a0a0"/>
<text x="130.8" y="321.4" font-size="7.5" text-anchor="start" fill="#000" font-weight="normal"  stroke="#000" stroke-width="0.15">rosiglitazone</text>
<line x1="43.7" y1="328.5" x2="43.7" y2="394.5" stroke="#333" stroke-width="0.8" />
<line x1="43.7" y1="394.5" x2="94.2" y2="394.5" stroke="#555" stroke-width="0.8" />
<line x1="42.2" y1="394.5" x2="43.7" y2="394.5" stroke="#333" stroke-width="0.8" />
<text x="41.8" y="396.16" font-size="4.6" text-anchor="end" fill="#333" font-weight="normal" stroke="#333" stroke-width="0.3">0</text>
<line x1="42.2" y1="372.78" x2="43.7" y2="372.78" stroke="#333" stroke-width="0.8" />
<text x="41.8" y="374.44" font-size="4.6" text-anchor="end" fill="#333" font-weight="normal" stroke="#333" stroke-width="0.3">4</text>
<line x1="42.2" y1="351.06" x2="43.7" y2="351.06" stroke="#333" stroke-width="0.8" />
<text x="41.8" y="352.72" font-size="4.6" text-anchor="end" fill="#333" font-weight="normal" stroke="#333" stroke-width="0.3">8</text>
<line x1="42.2" y1="329.34" x2="43.7" y2="329.34" stroke="#333" stroke-width="0.8" />
<text x="41.8" y="331" font-size="4.6" text-anchor="end" fill="#333" font-weight="normal" stroke="#333" stroke-width="0.3">12</text>
<line x1="52.6" y1="394.5" x2="52.6" y2="395.5" stroke="#777" stroke-width="0.6" />
<line x1="60.8" y1="394.5" x2="60.8" y2="395.5" stroke="#777" stroke-width="0.6" />
<line x1="69" y1="394.5" x2="69" y2="395.5" stroke="#777" stroke-width="0.6" />
<line x1="77.2" y1="394.5" x2="77.2" y2="395.5" stroke="#777" stroke-width="0.6" />
<line x1="85.4" y1="394.5" x2="85.4" y2="395.5" stroke="#777" stroke-width="0.6" />
<line x1="93.6" y1="394.5" x2="93.6" y2="395.5" stroke="#777" stroke-width="0.6" />
<text x="53.2" y="401.5" font-size="5.3" text-anchor="middle" fill="#333" font-weight="normal" stroke="#333" stroke-width="0.3">1</text>
<text x="68.8" y="401.5" font-size="5.3" text-anchor="middle" fill="#333" font-weight="normal" stroke="#333" stroke-width="0.3">10</text>
<text x="85.8" y="401.5" font-size="5.3" text-anchor="middle" fill="#333" font-weight="normal" stroke="#333" stroke-width="0.3">100</text>
<polyline points="52.6,388.9 69,358 86.1,336.7" fill="none" stroke="#a0a0a0" stroke-width="1.2" stroke-linejoin="round" />
<line x1="69" y1="358" x2="69" y2="348.5" stroke="#666" stroke-width="0.7" />
<line x1="67.9" y1="348.5" x2="70.1" y2="348.5" stroke="#666" stroke-width="0.7" />
<line x1="86.1" y1="336.7" x2="86.1" y2="334.5" stroke="#666" stroke-width="0.7" />
<line x1="85" y1="334.5" x2="87.2" y2="334.5" stroke="#666" stroke-width="0.7" />
<polyline points="52.6,388.5 69,372.3 86.1,358.6" fill="none" stroke="#000" stroke-width="1.25" stroke-linejoin="round" />
<circle cx="52.6" cy="388.5" r="1.5" fill="#777"/>
<circle cx="69" cy="372.3" r="1.7" fill="#000"/>
<circle cx="86.1" cy="358.6" r="1.7" fill="#000"/>
<line x1="69" y1="372.3" x2="69" y2="368.5" stroke="#333" stroke-width="0.7" />
<line x1="67.9" y1="368.5" x2="70.1" y2="368.5" stroke="#333" stroke-width="0.7" />
<line x1="52.6" y1="388.5" x2="52.6" y2="385.5" stroke="#555" stroke-width="0.6" />
<line x1="51.5" y1="385.5" x2="53.7" y2="385.5" stroke="#555" stroke-width="0.6" />
<polygon points="69,343.5 69.62,344.75 71,344.95 70,345.92 70.23,347.3 69,346.65 67.77,347.3 68,345.92 67,344.95 68.38,344.75" fill="#000"/>
<polygon points="86.6,330.1 87.22,331.35 88.6,331.55 87.6,332.52 87.83,333.9 86.6,333.25 85.37,333.9 85.6,332.52 84.6,331.55 85.98,331.35" fill="#000"/>
<text x="69.8" y="410.6" font-size="8.6" text-anchor="middle" fill="#000" font-weight="normal"  stroke="#000" stroke-width="0.15">Flt3L (ng/ml)</text>
<text x="29.4" y="360.05" font-size="10" text-anchor="middle" fill="#000" font-weight="normal" transform="rotate(-90 29.4 360.05)"  stroke="#000" stroke-width="0.15">fold expansion</text>
<line x1="132.4" y1="327.8" x2="132.4" y2="393.3" stroke="#333" stroke-width="0.8" />
<line x1="132.4" y1="393.3" x2="182.4" y2="393.3" stroke="#555" stroke-width="0.8" />
<line x1="130.9" y1="393.3" x2="132.4" y2="393.3" stroke="#333" stroke-width="0.8" />
<text x="130.5" y="395.1" font-size="5" text-anchor="end" fill="#333" font-weight="normal" stroke="#333" stroke-width="0.3">0</text>
<line x1="130.9" y1="380.3" x2="132.4" y2="380.3" stroke="#333" stroke-width="0.8" />
<text x="130.5" y="382.1" font-size="5" text-anchor="end" fill="#333" font-weight="normal" stroke="#333" stroke-width="0.3">5</text>
<line x1="130.9" y1="367.3" x2="132.4" y2="367.3" stroke="#333" stroke-width="0.8" />
<text x="130.5" y="369.1" font-size="5" text-anchor="end" fill="#333" font-weight="normal" stroke="#333" stroke-width="0.3">10</text>
<line x1="130.9" y1="354.3" x2="132.4" y2="354.3" stroke="#333" stroke-width="0.8" />
<text x="130.5" y="356.1" font-size="5" text-anchor="end" fill="#333" font-weight="normal" stroke="#333" stroke-width="0.3">15</text>
<line x1="130.9" y1="341.3" x2="132.4" y2="341.3" stroke="#333" stroke-width="0.8" />
<text x="130.5" y="343.1" font-size="5" text-anchor="end" fill="#333" font-weight="normal" stroke="#333" stroke-width="0.3">20</text>
<line x1="130.9" y1="328.3" x2="132.4" y2="328.3" stroke="#333" stroke-width="0.8" />
<text x="130.5" y="330.1" font-size="5" text-anchor="end" fill="#333" font-weight="normal" stroke="#333" stroke-width="0.3">25</text>
<line x1="141.4" y1="393.3" x2="141.4" y2="394.3" stroke="#777" stroke-width="0.6" />
<line x1="149.9" y1="393.3" x2="149.9" y2="394.3" stroke="#777" stroke-width="0.6" />
<line x1="158.4" y1="393.3" x2="158.4" y2="394.3" stroke="#777" stroke-width="0.6" />
<line x1="166.9" y1="393.3" x2="166.9" y2="394.3" stroke="#777" stroke-width="0.6" />
<line x1="175.4" y1="393.3" x2="175.4" y2="394.3" stroke="#777" stroke-width="0.6" />
<text x="140.8" y="401.5" font-size="5.4" text-anchor="middle" fill="#333" font-weight="normal" stroke="#333" stroke-width="0.3">1</text>
<text x="156.9" y="401.5" font-size="5.4" text-anchor="middle" fill="#333" font-weight="normal" stroke="#333" stroke-width="0.3">10</text>
<text x="174" y="401.5" font-size="5.4" text-anchor="middle" fill="#333" font-weight="normal" stroke="#333" stroke-width="0.3">100</text>
<polyline points="141.4,391.4 158.6,385.5 175.2,360.5" fill="none" stroke="#a0a0a0" stroke-width="1.2" stroke-linejoin="round" />
<polyline points="141.4,391.4 158.6,388.6 175.2,356.9" fill="none" stroke="#000" stroke-width="1.3" stroke-linejoin="round" />
<circle cx="141.4" cy="391.4" r="1.4" fill="#777"/>
<circle cx="158.6" cy="388.6" r="1.4" fill="#000"/>
<circle cx="175.2" cy="356.9" r="2.2" fill="#000"/>
<circle cx="158.6" cy="385.5" r="1.2" fill="#777"/>
<line x1="175.2" y1="356.9" x2="175.2" y2="335.5" stroke="#111" stroke-width="0.8" />
<line x1="174.1" y1="335.5" x2="176.3" y2="335.5" stroke="#111" stroke-width="0.8" />
<text x="156.3" y="409.9" font-size="8.62" text-anchor="middle" fill="#000" font-weight="normal"  stroke="#000" stroke-width="0.15">KL/TPO (ng/ml)</text>
<text x="248.3" y="283.2" font-size="17" text-anchor="start" fill="#000" font-weight="bold" >F</text>
<line x1="299.5" y1="299" x2="299.5" y2="394.2" stroke="#222" stroke-width="0.9" />
<line x1="299.5" y1="394.2" x2="441.2" y2="394.2" stroke="#222" stroke-width="0.9" />
<line x1="297.5" y1="394.2" x2="299.5" y2="394.2" stroke="#222" stroke-width="0.9" />
<text x="297" y="396.6" font-size="6.8" text-anchor="end" fill="#222" font-weight="normal"  stroke="#222" stroke-width="0.15">0</text>
<line x1="297.5" y1="375.83" x2="299.5" y2="375.83" stroke="#222" stroke-width="0.9" />
<text x="297" y="378.23" font-size="6.8" text-anchor="end" fill="#222" font-weight="normal"  stroke="#222" stroke-width="0.15">5000</text>
<line x1="297.5" y1="357.46" x2="299.5" y2="357.46" stroke="#222" stroke-width="0.9" />
<text x="297" y="359.86" font-size="6.8" text-anchor="end" fill="#222" font-weight="normal"  stroke="#222" stroke-width="0.15">10000</text>
<line x1="297.5" y1="339.09" x2="299.5" y2="339.09" stroke="#222" stroke-width="0.9" />
<text x="297" y="341.49" font-size="6.8" text-anchor="end" fill="#222" font-weight="normal"  stroke="#222" stroke-width="0.15">15000</text>
<line x1="297.5" y1="320.72" x2="299.5" y2="320.72" stroke="#222" stroke-width="0.9" />
<text x="297" y="323.12" font-size="6.8" text-anchor="end" fill="#222" font-weight="normal"  stroke="#222" stroke-width="0.15">20000</text>
<line x1="297.5" y1="302.35" x2="299.5" y2="302.35" stroke="#222" stroke-width="0.9" />
<text x="297" y="304.75" font-size="6.8" text-anchor="end" fill="#222" font-weight="normal"  stroke="#222" stroke-width="0.15">25000</text>
<line x1="299.5" y1="394.2" x2="299.5" y2="396.2" stroke="#222" stroke-width="0.9" />
<text x="299.5" y="403.6" font-size="6.7" text-anchor="middle" fill="#222" font-weight="normal"  stroke="#222" stroke-width="0.15">0</text>
<line x1="345.63" y1="394.2" x2="345.63" y2="396.2" stroke="#222" stroke-width="0.9" />
<text x="345.63" y="403.6" font-size="6.7" text-anchor="middle" fill="#222" font-weight="normal"  stroke="#222" stroke-width="0.15">5</text>
<line x1="391.77" y1="394.2" x2="391.77" y2="396.2" stroke="#222" stroke-width="0.9" />
<text x="391.77" y="403.6" font-size="6.7" text-anchor="middle" fill="#222" font-weight="normal"  stroke="#222" stroke-width="0.15">10</text>
<line x1="437.9" y1="394.2" x2="437.9" y2="396.2" stroke="#222" stroke-width="0.9" />
<text x="437.9" y="403.6" font-size="6.7" text-anchor="middle" fill="#222" font-weight="normal"  stroke="#222" stroke-width="0.15">15</text>
<text x="370" y="413.5" font-size="8.8" text-anchor="middle" fill="#000" font-weight="normal"  stroke="#000" stroke-width="0.15">days</text>
<text x="270.7" y="346.35" font-size="10.07" text-anchor="middle" fill="#000" font-weight="normal" transform="rotate(-90 270.7 346.35)"  stroke="#000" stroke-width="0.15">WBC count</text>
<line x1="299.5" y1="359.3" x2="299.5" y2="358.19" stroke="#000" stroke-width="0.7" />
<line x1="298.1" y1="358.19" x2="300.9" y2="358.19" stroke="#000" stroke-width="0.7" />
<line x1="327.18" y1="361.13" x2="327.18" y2="359.66" stroke="#000" stroke-width="0.7" />
<line x1="325.78" y1="359.66" x2="328.58" y2="359.66" stroke="#000" stroke-width="0.7" />
<line x1="364.09" y1="377.3" x2="364.09" y2="376.2" stroke="#000" stroke-width="0.7" />
<line x1="362.69" y1="376.2" x2="365.49" y2="376.2" stroke="#000" stroke-width="0.7" />
<line x1="391.77" y1="357.46" x2="391.77" y2="355.62" stroke="#000" stroke-width="0.7" />
<line x1="390.37" y1="355.62" x2="393.17" y2="355.62" stroke="#000" stroke-width="0.7" />
<line x1="428.67" y1="339.09" x2="428.67" y2="336.89" stroke="#000" stroke-width="0.7" />
<line x1="427.27" y1="336.89" x2="430.07" y2="336.89" stroke="#000" stroke-width="0.7" />
<line x1="299.5" y1="362.24" x2="299.5" y2="365.54" stroke="#e0262a" stroke-width="0.8" />
<line x1="298" y1="365.54" x2="301" y2="365.54" stroke="#e0262a" stroke-width="0.8" />
<line x1="299.5" y1="362.24" x2="299.5" y2="358.19" stroke="#e0262a" stroke-width="0.8" />
<line x1="298" y1="358.19" x2="301" y2="358.19" stroke="#e0262a" stroke-width="0.8" />
<line x1="391.77" y1="361.87" x2="391.77" y2="367.75" stroke="#e0262a" stroke-width="0.8" />
<line x1="390.17" y1="367.75" x2="393.37" y2="367.75" stroke="#e0262a" stroke-width="0.8" />
<line x1="428.67" y1="336.15" x2="428.67" y2="333.58" stroke="#d8505a" stroke-width="1" />
<line x1="426.87" y1="333.58" x2="430.47" y2="333.58" stroke="#d8505a" stroke-width="1" />
<line x1="364.09" y1="373.26" x2="364.09" y2="370.69" stroke="#000" stroke-width="0.8" />
<line x1="362.49" y1="370.69" x2="365.69" y2="370.69" stroke="#000" stroke-width="0.8" />
<line x1="391.77" y1="352.68" x2="391.77" y2="347.91" stroke="#000" stroke-width="0.8" />
<line x1="390.17" y1="347.91" x2="393.37" y2="347.91" stroke="#000" stroke-width="0.8" />
<line x1="391.77" y1="352.68" x2="391.77" y2="357.46" stroke="#000" stroke-width="0.8" />
<line x1="390.17" y1="357.46" x2="393.37" y2="357.46" stroke="#000" stroke-width="0.8" />
<line x1="428.67" y1="319.25" x2="428.67" y2="313.37" stroke="#000" stroke-width="0.8" />
<line x1="426.67" y1="313.37" x2="430.67" y2="313.37" stroke="#000" stroke-width="0.8" />
<line x1="428.67" y1="319.25" x2="428.67" y2="324.03" stroke="#000" stroke-width="0.8" />
<line x1="426.67" y1="324.03" x2="430.67" y2="324.03" stroke="#000" stroke-width="0.8" />
<polyline points="299.5,359.3 327.18,361.13 364.09,377.3 391.77,357.46 428.67,339.09" fill="none" stroke="#000" stroke-width="1.8" stroke-linejoin="round" />
<polyline points="299.5,359.66 327.18,361.13 364.09,373.26 391.77,352.68 428.67,319.25" fill="none" stroke="#000" stroke-width="1.6" stroke-linejoin="round" stroke-dasharray="3.4 2.3"/>
<polyline points="299.5,361.87 327.18,361.87 364.09,379.87 391.77,360.03 428.67,336.15" fill="none" stroke="#e0262a" stroke-width="1.4" stroke-linejoin="round" stroke-dasharray="2 1.5"/>
<polyline points="299.5,362.24 327.18,362.24 364.09,380.61 391.77,361.87 428.67,338.36" fill="none" stroke="#e0262a" stroke-width="1.8" stroke-linejoin="round" />
<rect x="297.8" y="357.6" width="3.4" height="3.4" fill="#000" stroke="none" stroke-width="0"/>
<rect x="325.48" y="359.43" width="3.4" height="3.4" fill="#000" stroke="none" stroke-width="0"/>
<rect x="362.39" y="375.6" width="3.4" height="3.4" fill="#000" stroke="none" stroke-width="0"/>
<rect x="390.07" y="355.76" width="3.4" height="3.4" fill="#000" stroke="none" stroke-width="0"/>
<rect x="426.97" y="337.39" width="3.4" height="3.4" fill="#000" stroke="none" stroke-width="0"/>
<polygon points="297.5,358.26 301.5,358.26 299.5,361.46" fill="#000"/>
<polygon points="325.18,359.73 329.18,359.73 327.18,362.93" fill="#000"/>
<polygon points="362.09,371.86 366.09,371.86 364.09,375.06" fill="#000"/>
<polygon points="389.77,351.28 393.77,351.28 391.77,354.48" fill="#000"/>
<polygon points="426.67,317.85 430.67,317.85 428.67,321.05" fill="#000"/>
<rect x="297.8" y="360.17" width="3.4" height="3.4" fill="#d8505a" stroke="none" stroke-width="0"/>
<rect x="325.48" y="360.17" width="3.4" height="3.4" fill="#d8505a" stroke="none" stroke-width="0"/>
<rect x="362.39" y="378.17" width="3.4" height="3.4" fill="#d8505a" stroke="none" stroke-width="0"/>
<rect x="390.07" y="358.33" width="3.4" height="3.4" fill="#d8505a" stroke="none" stroke-width="0"/>
<rect x="426.97" y="334.45" width="3.4" height="3.4" fill="#d8505a" stroke="none" stroke-width="0"/>
<polygon points="297.5,363.64 301.5,363.64 299.5,360.44" fill="#e0262a"/>
<polygon points="325.18,363.64 329.18,363.64 327.18,360.44" fill="#e0262a"/>
<polygon points="362.09,382.01 366.09,382.01 364.09,378.81" fill="#e0262a"/>
<polygon points="389.77,363.27 393.77,363.27 391.77,360.07" fill="#e0262a"/>
<polygon points="426.67,339.76 430.67,339.76 428.67,336.56" fill="#e0262a"/>
<polygon points="364.09,365 364.82,366.49 366.46,366.73 365.28,367.89 365.56,369.52 364.09,368.75 362.62,369.52 362.9,367.89 361.71,366.73 363.35,366.49" fill="#000"/>
<polygon points="428.67,307.5 429.41,308.99 431.05,309.23 429.86,310.39 430.14,312.02 428.67,311.25 427.2,312.02 427.48,310.39 426.3,309.23 427.94,308.99" fill="#000"/>
<line x1="306.7" y1="304.7" x2="319.9" y2="304.7" stroke="#000" stroke-width="1.6" />
<rect x="311.6" y="303.1" width="3.4" height="3.2" fill="#000" stroke="none" stroke-width="0"/>
<text x="321.5" y="307.5" font-size="7.7" text-anchor="start" fill="#000" font-weight="normal"  stroke="#000" stroke-width="0.15">wt</text>
<line x1="306.7" y1="314.9" x2="319.9" y2="314.9" stroke="#e0262a" stroke-width="1.3" />
<polygon points="311.4,316.46 315,316.46 313.2,313.58" fill="#e0262a"/>
<text x="321.5" y="317.8" font-size="7.7" text-anchor="start" fill="#000" font-weight="normal"  stroke="#000" stroke-width="0.15">Flt3-/-</text>
<line x1="306.2" y1="326.4" x2="320.4" y2="326.4" stroke="#000" stroke-width="1.4" stroke-dasharray="1.4 2.2"/>
<polygon points="311.2,324.9 315.2,324.9 313.2,328.1" fill="#000"/>
<line x1="309.6" y1="326.4" x2="316.6" y2="326.4" stroke="#000" stroke-width="1.4" />
<text x="321.5" y="329.2" font-size="7.7" text-anchor="start" fill="#000" font-weight="normal"  stroke="#000" stroke-width="0.15">wt + rosi</text>
<line x1="306.2" y1="337.6" x2="320.4" y2="337.6" stroke="#e0262a" stroke-width="1.3" stroke-dasharray="1.4 2.2"/>
<line x1="309.6" y1="337.6" x2="316.6" y2="337.6" stroke="#e0262a" stroke-width="1.3" />
<polygon points="311.4,336.34 315,336.34 313.2,339.22" fill="#e0262a"/>
<text x="321.5" y="340.4" font-size="7.7" text-anchor="start" fill="#000" font-weight="normal"  stroke="#000" stroke-width="0.15">Flt3-/- + rosi</text>
</g>
</svg></body></html>
